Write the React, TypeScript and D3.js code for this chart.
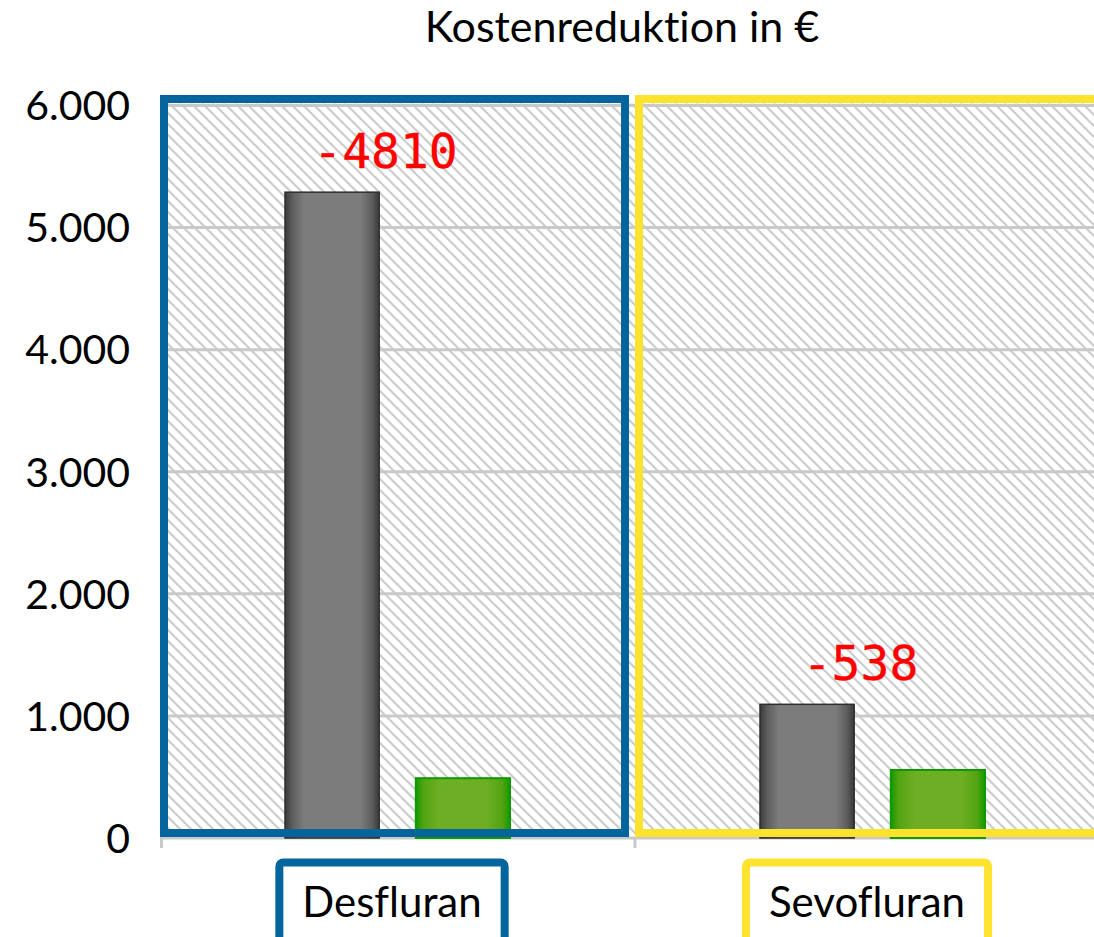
import React, { useEffect, useRef } from "react";
import * as d3 from "d3";

const categories = ["Desfluran", "Sevofluran"];
const grayValues = [5290, 1095];
const greenValues = [490, 557];
const diffLabels = ["-4810", "-538"];
const yTicks = [0, 1000, 2000, 3000, 4000, 5000, 6000];
const boxColors = ["#03659b", "#fde22e"];
const title = "Kostenreduktion in €";

const W = 1094;
const H = 937;

export default function App() {
  const ref = useRef<SVGSVGElement | null>(null);

  useEffect(() => {
    const svg = d3.select(ref.current);
    svg.selectAll("*").remove();

    const de = d3.formatLocale({ decimal: ",", thousands: ".", grouping: [3], currency: ["", " €"] });
    const fmt = de.format(",");

    const x = d3.scaleBand<string>().domain(categories).range([160, 1110]).paddingInner(0).paddingOuter(0);
    const sub = d3.scaleBand<string>().domain(["gray", "green"]).range([125, 350]).paddingInner(0.28).paddingOuter(0);
    const y = d3.scaleLinear().domain([0, 6000]).range([838, 105.5]);

    const defs = svg.append("defs");
    const P = 11;
    const pat = defs.append("pattern").attr("id", "hatch").attr("patternUnits", "userSpaceOnUse")
      .attr("width", P).attr("height", P);
    pat.append("rect").attr("width", P).attr("height", P).attr("fill", "#fff");
    [[-P, -P, 2 * P, 2 * P], [-P, 0, P, 2 * P], [0, -P, 2 * P, P]].forEach(([x1, y1, x2, y2]) =>
      pat.append("line").attr("x1", x1).attr("y1", y1).attr("x2", x2).attr("y2", y2)
        .attr("stroke", "#cdcdcd").attr("stroke-width", 2.2));

    const gGray = defs.append("linearGradient").attr("id", "gGray");
    [[0, "#3a3a3a"], [0.08, "#5e5e5e"], [0.2, "#7c7c7c"], [0.8, "#7c7c7c"], [0.92, "#5e5e5e"], [1, "#3a3a3a"]]
      .forEach(([o, c]) => gGray.append("stop").attr("offset", o as number).attr("stop-color", c as string));
    const gGreen = defs.append("linearGradient").attr("id", "gGreen");
    [[0, "#129a00"], [0.08, "#52a312"], [0.25, "#6eae24"], [0.75, "#6eae24"], [0.92, "#52a312"], [1, "#129a00"]]
      .forEach(([o, c]) => gGreen.append("stop").attr("offset", o as number).attr("stop-color", c as string));

    svg.append("rect").attr("width", W).attr("height", H).attr("fill", "#fff");

    // plot background hatch
    svg.append("rect").attr("x", 160).attr("y", y(6000) - 2).attr("width", W - 160)
      .attr("height", y(0) - y(6000) + 2).attr("fill", "url(#hatch)");

    // gridlines
    svg.append("g").selectAll("line").data(yTicks).join("line")
      .attr("x1", 160).attr("x2", W).attr("y1", (d) => y(d)).attr("y2", (d) => y(d))
      .attr("stroke", "#c9c9c9").attr("stroke-width", 3);

    // y axis line + ticks at category boundaries
    svg.append("line").attr("x1", 161.5).attr("x2", 161.5).attr("y1", y(6000)).attr("y2", y(0) + 10)
      .attr("stroke", "#c9c9c9").attr("stroke-width", 3);
    svg.append("g").selectAll("line").data(categories).join("line")
      .attr("x1", (d) => (x(d) as number) + x.bandwidth()).attr("x2", (d) => (x(d) as number) + x.bandwidth())
      .attr("y1", y(0)).attr("y2", y(0) + 10).attr("stroke", "#c9c9c9").attr("stroke-width", 3);

    // y tick labels
    svg.append("g").selectAll("text").data(yTicks).join("text")
      .attr("x", 130).attr("y", (d) => y(d)).attr("dy", "0.36em").attr("text-anchor", "end")
      .attr("font-family", "Lato").attr("font-size", 41).attr("fill", "#000")
      .text((d) => fmt(d));

    // bars
    const bars = svg.append("g");
    categories.forEach((c, i) => {
      const x0 = x(c) as number;
      bars.append("rect").attr("x", x0 + (sub("gray") as number)).attr("width", sub.bandwidth())
        .attr("y", y(grayValues[i])).attr("height", y(0) - y(grayValues[i]))
        .attr("fill", "url(#gGray)").attr("stroke", "#2e2e2e").attr("stroke-width", 1.5);
      bars.append("rect").attr("x", x0 + (sub("green") as number)).attr("width", sub.bandwidth())
        .attr("y", y(greenValues[i])).attr("height", y(0) - y(greenValues[i]))
        .attr("fill", "url(#gGreen)").attr("stroke", "#0f9900").attr("stroke-width", 2);
    });

    // category frames
    categories.forEach((c, i) => {
      const x0 = x(c) as number;
      svg.append("rect").attr("x", x0 + 4).attr("y", 99).attr("width", x.bandwidth() - 14)
        .attr("height", 833 - 99).attr("fill", "none").attr("stroke", boxColors[i]).attr("stroke-width", 8);
    });

    // diff labels
    svg.append("g").selectAll("text").data(categories).join("text")
      .attr("x", (d) => (x(d) as number) + x.bandwidth() / 2 - 12)
      .attr("y", (d, i) => y(grayValues[i]) - 24)
      .attr("text-anchor", "middle").attr("font-family", "DejaVu Sans Mono").attr("font-size", 48)
      .attr("fill", "#ff0000").attr("stroke", "#ff0000").attr("stroke-width", 0.3)
      .text((d, i) => diffLabels[i]);

    // category label boxes
    categories.forEach((c, i) => {
      const cx = (x(c) as number) + x.bandwidth() / 2 - 5.5;
      const g = svg.append("g");
      const box = g.append("rect");
      const t = g.append("text").attr("x", cx).attr("y", 917).attr("text-anchor", "middle")
        .attr("font-family", "Lato").attr("font-size", 42).attr("fill", "#000")
        .style("font-variant-ligatures", "none").text(c);
      const tw = (t.node() as SVGTextElement).getComputedTextLength();
      const bw = tw + 46;
      box.attr("x", cx - bw / 2).attr("y", 862.5).attr("width", bw).attr("height", 110)
        .attr("rx", 4).attr("fill", "#fff").attr("stroke", boxColors[i]).attr("stroke-width", 8);
    });

    // title
    svg.append("text").attr("x", 622).attr("y", 42).attr("text-anchor", "middle")
      .attr("font-family", "Lato").attr("font-size", 43).attr("fill", "#000")
      .style("font-variant-ligatures", "none").text(title);
  }, []);

  return (
    <svg ref={ref} width={W} height={H}
      style={{ position: "absolute", left: 0, top: 0, display: "block" }} />
  );
}
